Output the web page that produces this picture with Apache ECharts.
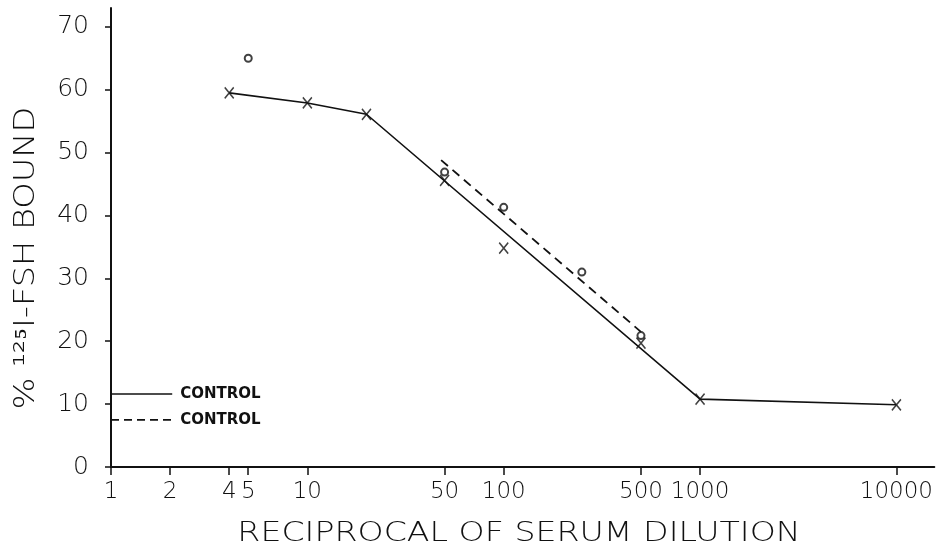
<!DOCTYPE html>
<html>
<head>
<meta charset="utf-8">
<script src="https://cdn.jsdelivr.net/npm/echarts@6/dist/echarts.min.js"></script>
<style>html,body{margin:0;padding:0;background:#fff}#c{width:936px;height:552px}</style>
</head>
<body>
<div id="c"></div>
<script>
// ---- data ----
const xTickValues = [1, 2, 4, 5, 10, 50, 100, 500, 1000, 10000];
const yTickValues = [0, 10, 20, 30, 40, 50, 60, 70];

// "x" markers (solid curve)
const crossX = [4, 10, 20, 50, 100, 500, 1000, 10000];
const crossY = [59.5, 57.9, 56.1, 45.6, 34.8, 19.7, 10.8, 9.9];

// "o" markers (dashed curve)
const circX = [5, 50, 100, 250, 500];
const circY = [65.0, 46.9, 41.3, 31.0, 20.9];

// fitted solid line
const solidX = [4, 10, 20, 1000, 10000];
const solidY = [59.5, 57.9, 56.1, 10.8, 9.9];

// fitted dashed line
const dashedX = [48, 500];
const dashedY = [48.8, 21.5];

// control levels (short lines from the axis)
const controlX = [1, 2.05];
const controlSolidY = [11.6, 11.6];
const controlDashedY = [7.5, 7.5];
const controlLabel = 'CONTROL';

const xTitle = 'RECIPROCAL OF SERUM DILUTION';
const yTitle = '% \u00B9\u00B2\u2075I-FSH BOUND';

const zip = (a, b) => a.map((v, i) => [v, b[i]]);

const FONT = 'DejaVu Sans';
const chart = echarts.init(document.getElementById('c'), null, {renderer: 'canvas'});
const crossPath = 'path://M0,0L10,12M10,0L0,12';

chart.setOption({
  backgroundColor: '#fff',
  animation: false,
  grid: {left: 111, right: 0, top: 8, bottom: 85, containLabel: false},
  xAxis: {
    type: 'log', min: 1, max: 15600, logBase: 10,
    axisLine: {show: true, lineStyle: {color: '#111', width: 2}},
    axisTick: {show: true, length: 8, lineStyle: {color: '#111', width: 1.5}, customValues: xTickValues},
    axisLabel: {color: '#111', fontFamily: FONT, fontSize: 23, fontWeight: 300, margin: 14, customValues: xTickValues,
      formatter: v => String(Math.round(v))},
    splitLine: {show: false}, minorTick: {show: false}
  },
  yAxis: {
    type: 'value', min: 0, max: 73,
    axisLine: {show: true, lineStyle: {color: '#111', width: 2}},
    axisTick: {show: true, length: 6, lineStyle: {color: '#111', width: 1.5}, customValues: yTickValues},
    axisLabel: {color: '#111', fontFamily: FONT, fontSize: 25, fontWeight: 300, margin: 22, customValues: yTickValues},
    splitLine: {show: false}
  },
  graphic: [{
    type: 'text', x: 519, y: 534, scaleX: 1.23,
    style: {text: xTitle, fill: '#111', font: '300 27px "DejaVu Sans"', textAlign: 'center', textVerticalAlign: 'middle'}
  }, {
    type: 'text', x: 27, y: 258, rotation: Math.PI / 2, scaleX: 1.2,
    style: {text: yTitle, fill: '#111', font: '300 28px "DejaVu Sans"', textAlign: 'center', textVerticalAlign: 'middle'}
  }],
  series: [
    {type: 'line', data: zip(solidX, solidY), symbol: 'none', silent: true,
      lineStyle: {color: '#111', width: 1.6}},
    {type: 'line', data: zip(dashedX, dashedY), symbol: 'none', silent: true,
      lineStyle: {color: '#111', width: 1.8, type: [9, 6]}},
    {type: 'scatter', data: zip(crossX, crossY), symbol: crossPath, symbolSize: [9, 11],
      itemStyle: {color: 'none', borderColor: '#111', borderWidth: 1.6}},
    {type: 'scatter', data: zip(circX, circY), symbol: 'emptyCircle', symbolSize: 7,
      itemStyle: {color: '#111', borderColor: '#111', borderWidth: 1.6}},
    {type: 'line', data: zip(controlX, controlSolidY), symbol: 'none', silent: true,
      lineStyle: {color: '#111', width: 1.6},
      endLabel: {show: true, formatter: controlLabel, color: '#111', fontFamily: FONT, fontSize: 15, fontWeight: 'bold', distance: 8}},
    {type: 'line', data: zip(controlX, controlDashedY), symbol: 'none', silent: true,
      lineStyle: {color: '#111', width: 1.6, type: [8, 5]},
      endLabel: {show: true, formatter: controlLabel, color: '#111', fontFamily: FONT, fontSize: 15, fontWeight: 'bold', distance: 8}}
  ]
});
</script>
</body>
</html>
